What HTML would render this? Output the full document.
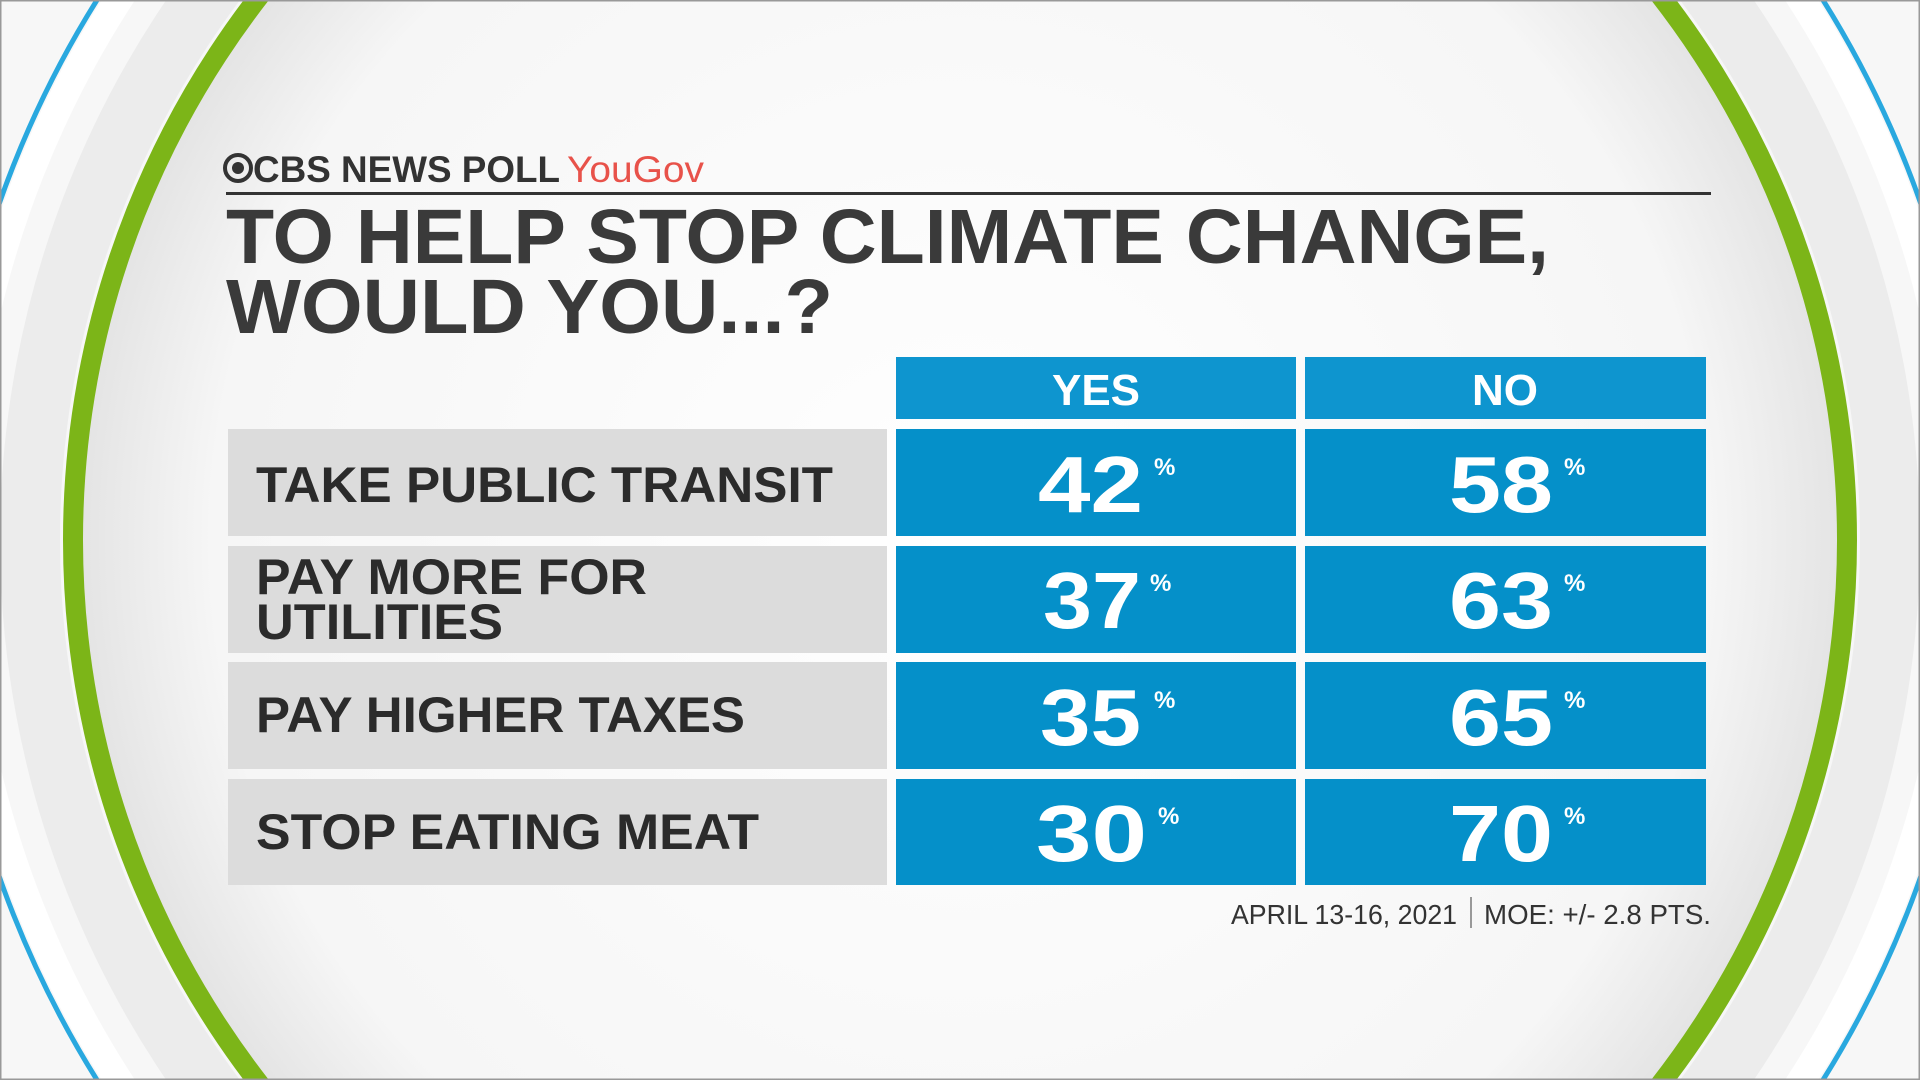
<!DOCTYPE html>
<html><head><meta charset="utf-8"><style>
html,body{margin:0;padding:0;width:1920px;height:1080px;overflow:hidden;background:#f5f5f5}
#w{position:absolute;left:0;top:0;width:1920px;height:1080px;overflow:hidden}
svg{display:block}
text{font-family:"Liberation Sans",Arial,sans-serif;font-weight:bold}
</style></head><body><div id="w">
<svg width="1920" height="1080" viewBox="0 0 1920 1080" xmlns="http://www.w3.org/2000/svg">
<defs>
<radialGradient id="inner" cx="960" cy="540" r="880" gradientUnits="userSpaceOnUse">
<stop offset="0" stop-color="#ffffff"/><stop offset="0.85" stop-color="#f6f6f6"/><stop offset="1" stop-color="#e4e4e4"/>
</radialGradient>
</defs>
<rect width="1920" height="1080" fill="#f7f7f7"/>
<circle cx="960" cy="540" r="1018" fill="none" stroke="#29a8df" stroke-width="5"/>
<circle cx="960" cy="540" r="1000" fill="none" stroke="#ffffff" stroke-width="28"/>
<circle cx="960" cy="540" r="930" fill="none" stroke="#ececec" stroke-width="60"/>
<circle cx="960" cy="540" r="878" fill="url(#inner)"/>
<circle cx="960" cy="540" r="887" fill="none" stroke="#7cb518" stroke-width="20"/>
<rect x="0.5" y="0.5" width="1919" height="1079" fill="none" stroke="#999" stroke-width="2"/>

<circle cx="238" cy="168" r="13" fill="none" stroke="#333" stroke-width="4"/>
<ellipse cx="238" cy="168" rx="6" ry="6" fill="#333"/>
<text x="253" y="182" font-size="37" fill="#333" textLength="307" lengthAdjust="spacingAndGlyphs">CBS NEWS POLL</text>
<text x="567" y="182" font-size="37" fill="#e8524a" textLength="137" lengthAdjust="spacingAndGlyphs" style="font-weight:normal">YouGov</text>
<rect x="226" y="192" width="1485" height="3" fill="#333"/>
<text x="226" y="263" font-size="77" fill="#3a3a3a" textLength="1323" lengthAdjust="spacingAndGlyphs">TO HELP STOP CLIMATE CHANGE,</text>
<text x="226" y="333" font-size="77" fill="#3a3a3a" textLength="607" lengthAdjust="spacingAndGlyphs">WOULD YOU...?</text>

<rect x="896" y="357" width="400" height="62" fill="#0e95cf"/>
<rect x="1305" y="357" width="401" height="62" fill="#0e95cf"/>
<text x="1096" y="405" font-size="44" fill="#fff" text-anchor="middle">YES</text>
<text x="1505" y="405" font-size="44" fill="#fff" text-anchor="middle">NO</text>

<g fill="#dcdcdc">
<rect x="228" y="429" width="659" height="107"/>
<rect x="228" y="546" width="659" height="107"/>
<rect x="228" y="662" width="659" height="107"/>
<rect x="228" y="779" width="659" height="106"/>
</g>
<g fill="#0590c9">
<rect x="896" y="429" width="400" height="107"/><rect x="1305" y="429" width="401" height="107"/>
<rect x="896" y="546" width="400" height="107"/><rect x="1305" y="546" width="401" height="107"/>
<rect x="896" y="662" width="400" height="107"/><rect x="1305" y="662" width="401" height="107"/>
<rect x="896" y="779" width="400" height="106"/><rect x="1305" y="779" width="401" height="106"/>
</g>
<g fill="#2b2b2b" font-size="50">
<text x="256" y="502" textLength="577" lengthAdjust="spacingAndGlyphs">TAKE PUBLIC TRANSIT</text>
<text x="256" y="594" textLength="391" lengthAdjust="spacingAndGlyphs">PAY MORE FOR</text>
<text x="256" y="639" textLength="247" lengthAdjust="spacingAndGlyphs">UTILITIES</text>
<text x="256" y="732" textLength="489" lengthAdjust="spacingAndGlyphs">PAY HIGHER TAXES</text>
<text x="256" y="849" textLength="503" lengthAdjust="spacingAndGlyphs">STOP EATING MEAT</text>
</g>
<g fill="#fff" font-size="80">
<text x="1038" y="512" textLength="105" lengthAdjust="spacingAndGlyphs">42</text><text x="1449" y="512" textLength="104" lengthAdjust="spacingAndGlyphs">58</text>
<text x="1043" y="628" textLength="98" lengthAdjust="spacingAndGlyphs">37</text><text x="1449" y="628" textLength="104" lengthAdjust="spacingAndGlyphs">63</text>
<text x="1040" y="745" textLength="101" lengthAdjust="spacingAndGlyphs">35</text><text x="1449" y="745" textLength="104" lengthAdjust="spacingAndGlyphs">65</text>
<text x="1036" y="861" textLength="111" lengthAdjust="spacingAndGlyphs">30</text><text x="1449" y="861" textLength="104" lengthAdjust="spacingAndGlyphs">70</text>
</g>
<g fill="#fff" font-size="24">
<text x="1154" y="475">%</text><text x="1564" y="475">%</text>
<text x="1150" y="591">%</text><text x="1564" y="591">%</text>
<text x="1154" y="708">%</text><text x="1564" y="708">%</text>
<text x="1158" y="824">%</text><text x="1564" y="824">%</text>
</g>

<text x="1231" y="924" font-size="28" fill="#333" textLength="226" lengthAdjust="spacingAndGlyphs" style="font-weight:normal">APRIL 13-16, 2021</text>
<rect x="1470" y="897" width="2" height="31" fill="#999"/>
<text x="1484" y="924" font-size="28" fill="#333" textLength="227" lengthAdjust="spacingAndGlyphs" style="font-weight:normal">MOE: +/- 2.8 PTS.</text>
</svg>
</div></body></html>
